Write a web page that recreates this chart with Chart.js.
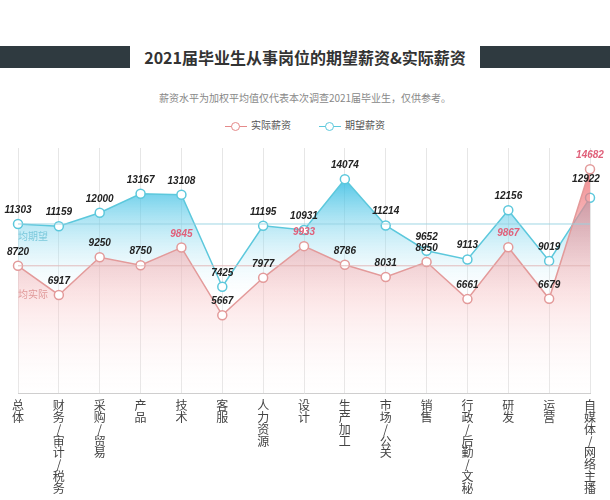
<!DOCTYPE html>
<html><head><meta charset="utf-8">
<script src="https://cdn.jsdelivr.net/npm/chart.js@4/dist/chart.umd.min.js"></script>
<style>
body{margin:0;width:610px;height:500px;background:#fff;font-family:"Noto Sans CJK SC",sans-serif;overflow:hidden;position:relative}
#band{position:absolute;top:46px;left:0;width:610px;height:22px;background:#2f3a40}
#tbox{position:absolute;top:42px;left:130px;width:350px;height:30px;background:#fff;text-align:center;line-height:30px;font-size:16px;font-weight:bold;color:#333}
#sub{position:absolute;top:90px;left:0;width:610px;text-align:center;font-size:10px;color:#888}
#leg{position:absolute;top:117px;left:0;width:610px;text-align:center;font-size:10px;color:#555}
.it{display:inline-block;margin:0 14px}
.mk{display:inline-block;width:22px;height:10px;position:relative;vertical-align:middle;margin-right:4px}
.mk:before{content:"";position:absolute;left:0;right:0;top:5px;height:1px;background:currentColor}
.mk:after{content:"";position:absolute;left:6px;top:1px;width:7px;height:7px;border:1px solid currentColor;border-radius:50%;background:#fff}
#c{position:absolute;top:140px;left:0}
</style></head><body>
<div id="band"></div><div id="tbox">2021届毕业生从事岗位的期望薪资&amp;实际薪资</div>
<div id="sub">薪资水平为加权平均值仅代表本次调查2021届毕业生，仅供参考。</div>
<div id="leg"><span class="it"><span class="mk" style="color:#e58a8a"></span>实际薪资</span><span class="it"><span class="mk" style="color:#5cc8dc"></span>期望薪资</span></div>
<canvas id="c" width="610" height="360"></canvas>
<script>
const categories=["总体","财务/审计/税务","采购/贸易","产品","技术","客服","人力资源","设计","生产加工","市场/公关","销售","行政/后勤/文秘","研发","运营","自媒体/网络主播"];
const expected=[11303,11159,12000,13167,13108,7425,11195,10931,14074,11214,9652,9113,12156,9019,12922];
const actual=[8720,6917,9250,8750,9845,5667,7977,9933,8786,8031,8950,6661,9867,6679,14682];
const highlightActual=[9845,9933,9867,14682];
const avgExpected=expected.map(()=>expected[0]);
const avgActual=actual.map(()=>actual[0]);

const labelPlugin={id:'lbl',afterDatasetsDraw(ch){
 const ctx=ch.ctx;ctx.save();
 ctx.font='italic bold 10px "Liberation Sans",Arial';ctx.textAlign='center';
 [0,1].forEach(di=>{const m=ch.getDatasetMeta(di);const d=ch.data.datasets[di].data;
  m.data.forEach((p,i)=>{let x=p.x,y=p.y-11;
   if(di===1&&highlightActual.includes(d[i]))ctx.fillStyle='#e0607a';else ctx.fillStyle='#222';
   if(di===0&&i===14){y=p.y-16;x-=4;}
   ctx.fillText(d[i],x,y);});});
 const ys=ch.scales.y;
 ctx.font='10px "Noto Sans CJK SC"';ctx.textAlign='left';
 ctx.fillStyle='#7cc9dc';ctx.fillText('均期望',18,ys.getPixelForValue(expected[0])+16);
 ctx.fillStyle='#e09a9a';ctx.fillText('均实际',18,ys.getPixelForValue(actual[0])+32);
 ctx.restore();}};

const ctx=document.getElementById('c').getContext('2d');
function grad(c,a,b,col){const g=c.createLinearGradient(0,a,0,b);g.addColorStop(0,col);g.addColorStop(1,'rgba(255,255,255,0)');return g;}
new Chart(ctx,{type:'line',
 data:{labels:categories.map(s=>s.split('')),datasets:[
  {data:expected,borderColor:'#5cc8dc',borderWidth:1.5,pointRadius:4.5,pointBackgroundColor:'#fff',pointBorderColor:'#5cc8dc',pointBorderWidth:1.5,fill:'origin',backgroundColor:c=>grad(c.chart.ctx,40,165,'rgba(40,185,225,0.8)'),tension:0,order:2},
  {data:actual,borderColor:'#e39a9a',borderWidth:1.5,pointRadius:4.5,pointBackgroundColor:'#fff',pointBorderColor:'#e39a9a',pointBorderWidth:1.5,fill:'origin',backgroundColor:c=>grad(c.chart.ctx,30,270,'rgba(238,110,115,0.8)'),tension:0,order:1},
  {data:avgExpected,borderColor:'rgba(150,210,225,0.9)',borderWidth:1,pointRadius:0,fill:false,order:0},
  {data:avgActual,borderColor:'rgba(225,180,180,0.9)',borderWidth:1,pointRadius:0,fill:false,order:0}
 ]},
 options:{responsive:false,animation:false,layout:{padding:{left:18,right:20,top:8}},
  plugins:{legend:{display:false},tooltip:{enabled:false}},
  scales:{y:{display:false,min:800,max:16000},
   x:{offset:false,grid:{color:'#e6e6e6',drawTicks:false},border:{color:'#ccc'},
    ticks:{maxRotation:0,autoSkip:false,color:'#444',font:{size:12,family:'"Noto Sans CJK SC"',lineHeight:0.98},padding:6}}}},
 plugins:[labelPlugin]});
</script></body></html>
